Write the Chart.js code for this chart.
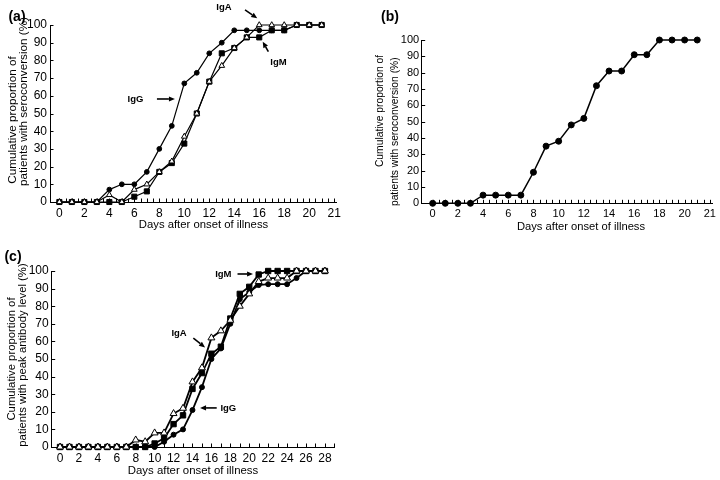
<!DOCTYPE html>
<html><head><meta charset="utf-8">
<script src="https://cdn.jsdelivr.net/npm/chart.js@4.4.1/dist/chart.umd.min.js"></script>
<style>
html,body{margin:0;padding:0;background:#fff;}
body{width:720px;height:480px;position:relative;overflow:hidden;}
canvas{position:absolute;}
</style></head><body>
<canvas id="ca" width="345" height="240" style="left:0;top:0"></canvas>
<canvas id="cb" width="360" height="240" style="left:360px;top:0"></canvas>
<canvas id="cc" width="345" height="240" style="left:0;top:240px"></canvas>
<script>
// ---------- data ----------
const DAYS_21 = [0,1,2,3,4,5,6,7,8,9,10,11,12,13,14,15,16,17,18,19,20,21];
const DAYS_28 = [0,1,2,3,4,5,6,7,8,9,10,11,12,13,14,15,16,17,18,19,20,21,22,23,24,25,26,27,28];

// (a) seroconversion by class
const A_IGG = [0,0,0,0,7,10,10,17,30,43,67,73,84,90,97,97,97,97,97,100,100,100];
const A_IGM = [0,0,0,0,0,0,3,6,17,22,33,50,68,84,87,93,93,97,97,100,100,100];
const A_IGA = [0,0,0,0,4,0,7,10,17,23,37,50,68,77,87,93,100,100,100,100,100,100];

// (b) overall seroconversion
const B_ALL = [0,0,0,0,5,5,5,5,19,35,38,48,52,72,81,81,91,91,100,100,100,100];

// (c) peak antibody level
const C_IGG = [0,0,0,0,0,0,0,0,0,0,0,3,7,10,21,34,50,56,70,84,88,92,92.5,92.5,92.5,96,100,100,100];
const C_IGM = [0,0,0,0,0,0,0,0,0,0,2,5,13,18,33,42,53,57,73,87,91,98,100,100,100,100,100,100,100];
const C_IGA = [0,0,0,0,0,0,0,0,4,3,8,8,19,22,37,45,62,66,72,80,87,94,96,96,96,100,100,100,100];

// ticks
const Y_TICKS = [0,10,20,30,40,50,60,70,80,90,100];
const X_TICKS_AB = [0,2,4,6,8,10,12,14,16,18,20,22];
const X_LABELS_AB = ['0','2','4','6','8','10','12','14','16','18','20','21'];
const X_TICKS_C = [0,2,4,6,8,10,12,14,16,18,20,22,24,26,28];
const X_LABELS_C = ['0','2','4','6','8','10','12','14','16','18','20','22','24','26','28'];

const X_TITLE = 'Days after onset of illness';
const Y_TITLE_AB = ['Cumulative proportion of', 'patients with seroconversion (%)'];
const Y_TITLE_C = ['Cumulative proportion of', 'patients with peak antibody level (%)'];

// ---------- helpers ----------
const FAM = '"Liberation Sans", Arial, Helvetica, sans-serif';
Chart.defaults.font.family = FAM;
Chart.defaults.color = '#000';

function pts(days, vals){ return days.map((d,i)=>({x:d, y:vals[i]})); }

function ds(days, vals, style, lw, r){
  const base = {data: pts(days, vals), borderColor:'#000', borderWidth:lw, tension:0, fill:false, clip:false,
    pointBorderColor:'#000', pointBorderWidth:1, pointHoverRadius:r};
  if (style==='circle') Object.assign(base,{pointStyle:'circle', pointRadius:r, pointBackgroundColor:'#000'});
  if (style==='rect') Object.assign(base,{pointStyle:'rect', pointRadius:r, pointBackgroundColor:'#000'});
  if (style==='triangle') Object.assign(base,{pointStyle:'triangle', pointRadius:r, pointBackgroundColor:'#fff'});
  return base;
}

function arrow(ctx, x1, y1, x2, y2){
  const a = Math.atan2(y2-y1, x2-x1), L = 6, W = 2.6;
  const bx = x2 - L*Math.cos(a), by = y2 - L*Math.sin(a);
  ctx.beginPath(); ctx.moveTo(x1,y1); ctx.lineTo(bx,by); ctx.lineWidth=1.6; ctx.stroke();
  ctx.beginPath(); ctx.moveTo(x2,y2);
  ctx.lineTo(bx - W*Math.sin(a), by + W*Math.cos(a));
  ctx.lineTo(bx + W*Math.sin(a), by - W*Math.cos(a));
  ctx.closePath(); ctx.fill();
}

function deco(cfg){
  return {
    id: 'deco',
    beforeDatasetsDraw(chart){
      const {ctx, chartArea:ca, scales:{x, y}} = chart;
      ctx.save(); ctx.strokeStyle='#000'; ctx.lineWidth=1; ctx.beginPath();
      for (let v=0; v<=cfg.tickMax+1e-9; v+=cfg.tickStep){
        const px = Math.round(x.getPixelForValue(v))+0.5;
        ctx.moveTo(px, ca.bottom); ctx.lineTo(px, ca.bottom-3.5);
      }
      Y_TICKS.forEach(v=>{
        const py = Math.round(y.getPixelForValue(v))+0.5;
        ctx.moveTo(ca.left, py); ctx.lineTo(ca.left+3.5, py);
      });
      ctx.stroke(); ctx.restore();
    },
    afterDraw(chart){
      const {ctx, scales:{x, y}} = chart;
      ctx.save(); ctx.fillStyle='#000'; ctx.strokeStyle='#000';
      ctx.textAlign='center'; ctx.textBaseline='middle';
      // panel label
      ctx.font = 'bold 14px ' + FAM;
      ctx.fillText(cfg.panel[0], cfg.panel[1], cfg.panel[2]);
      // x title
      ctx.font = cfg.xTitle[3] + 'px ' + FAM;
      ctx.fillText(X_TITLE, cfg.xTitle[1], cfg.xTitle[2]);
      // y title lines
      cfg.yTitle.forEach(l=>{
        ctx.save(); ctx.translate(l[1], l[2]); ctx.rotate(-Math.PI/2);
        ctx.font = l[3] + 'px ' + FAM; ctx.fillText(l[0], 0, 0); ctx.restore();
      });
      // annotations (data coordinates)
      ctx.font = 'bold 9.5px ' + FAM;
      (cfg.notes||[]).forEach(n=>{
        ctx.fillText(n.t, x.getPixelForValue(n.tx), y.getPixelForValue(n.ty));
        arrow(ctx, x.getPixelForValue(n.a[0]), y.getPixelForValue(n.a[1]), x.getPixelForValue(n.a[2]), y.getPixelForValue(n.a[3]));
      });
      ctx.restore();
    }
  };
}

function makeChart(id, datasets, o){
  return new Chart(document.getElementById(id), {
    type:'line',
    data:{datasets},
    options:{
      responsive:false, animation:false, devicePixelRatio:1, events:[],
      layout:{padding:{top:o.top, right:o.right, bottom:0, left:0}},
      plugins:{legend:{display:false}, tooltip:{enabled:false}},
      scales:{
        x:{type:'linear', min:o.xmin, max:o.xmax,
          grid:{display:false, drawTicks:false}, border:{display:true, color:'#000', width:1},
          ticks:{autoSkip:false, maxRotation:0, padding:o.xpad, font:{size:o.tickFont}, color:'#000',
            callback:(v,i)=>o.xlabels[i]},
          afterBuildTicks:s=>{ s.ticks = o.xticks.map(v=>({value:v})); },
          afterFit:s=>{ s.height = o.xh; }
        },
        y:{type:'linear', min:0, max:100,
          grid:{display:false, drawTicks:false}, border:{display:true, color:'#000', width:1},
          ticks:{autoSkip:false, padding:o.ypad, font:{size:o.tickFont}, color:'#000'},
          afterBuildTicks:s=>{ s.ticks = Y_TICKS.map(v=>({value:v})); },
          afterFit:s=>{ s.width = o.yw; }
        }
      }
    },
    plugins:[deco(o.deco)]
  });
}

// ---------- (a) ----------
makeChart('ca', [
  ds(DAYS_21, A_IGA, 'triangle', 1.2, 3.3),
  ds(DAYS_21, A_IGM, 'rect', 1.2, 3.6),
  ds(DAYS_21, A_IGG, 'circle', 1.2, 2.4)
], {top:25, right:8.3, xmin:-0.75, xmax:22.2, xh:38, yw:50, xpad:4, ypad:3, tickFont:12,
   xticks:X_TICKS_AB, xlabels:X_LABELS_AB,
   deco:{panel:['(a)',17,17.5], tickMax:22, tickStep:0.5,
     xTitle:[X_TITLE, 203.5, 225, 11.3],
     yTitle:[[Y_TITLE_AB[0], 12.3, 120, 11.7],[Y_TITLE_AB[1], 24, 101.5, 11.7]],
     notes:[
       {t:'IgG', tx:6.09, ty:58.2, a:[7.81,58.2,9.25,58.2]},
       {t:'IgA', tx:13.18, ty:110.2, a:[14.86,108.5,15.84,103.8]},
       {t:'IgM', tx:17.54, ty:79.1, a:[16.73,84.9,16.28,90.6]}
     ]}
  });

// ---------- (b) ----------
makeChart('cb', [
  ds(DAYS_21, B_ALL, 'circle', 1.5, 3.0)
], {top:40, right:6, xmin:-0.87, xmax:22.2, xh:36.7, yw:61.7, xpad:4, ypad:2.5, tickFont:11,
   xticks:X_TICKS_AB, xlabels:X_LABELS_AB,
   deco:{panel:['(b)',30,17], tickMax:22, tickStep:0.5,
     xTitle:[X_TITLE, 221, 227, 11.2],
     yTitle:[[Y_TITLE_AB[0], 20, 111, 10.3],[Y_TITLE_AB[1], 34.7, 131.7, 10.3]]}
  });

// ---------- (c) ----------
makeChart('cc', [
  ds(DAYS_28, C_IGA, 'triangle', 1.8, 4.0),
  ds(DAYS_28, C_IGM, 'rect', 1.8, 3.8),
  ds(DAYS_28, C_IGG, 'circle', 1.8, 2.5)
], {top:31, right:10.6, xmin:-0.88, xmax:29, xh:33, yw:51.7, xpad:4, ypad:3, tickFont:12,
   xticks:X_TICKS_C, xlabels:X_LABELS_C,
   deco:{panel:['(c)',13,17.5], tickMax:29, tickStep:1,
     xTitle:[X_TITLE, 193, 231, 11.4],
     yTitle:[[Y_TITLE_C[0], 11.7, 119, 11.3],[Y_TITLE_C[1], 23.3, 115, 11.3]],
     notes:[
       {t:'IgM', tx:17.26, ty:98.0, a:[18.76,98.3,20.4,98.3]},
       {t:'IgA', tx:12.58, ty:64.5, a:[14.09,61.8,15.33,56.6]},
       {t:'IgG', tx:17.79, ty:21.9, a:[16.56,22.2,14.8,22.2]}
     ]}
  });
</script>
</body></html>
